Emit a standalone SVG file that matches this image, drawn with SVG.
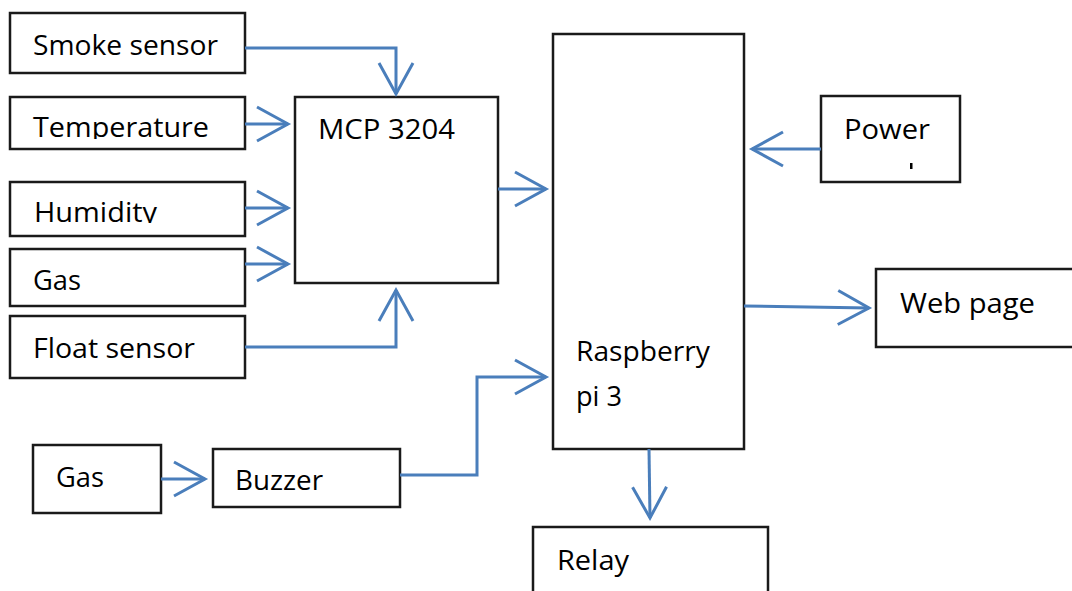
<svg xmlns="http://www.w3.org/2000/svg" width="1072" height="591" viewBox="0 0 1072 591">
<style>
.box{fill:#fff;stroke:#1a1a1a;stroke-width:2.5}
.lbl{font-family:"Open Sans","Liberation Sans",sans-serif;font-size:27px;fill:#000}
.con{fill:none;stroke:#4a7ebb;stroke-width:3}
</style>
<defs>
<marker id="ah" markerUnits="userSpaceOnUse" markerWidth="44" markerHeight="44" viewBox="-36 -22 44 44" refX="0" refY="0" orient="auto">
<path d="M-31,-17 L0,0 L-31,17" fill="none" stroke="#4a7ebb" stroke-width="3"/>
</marker>
<clipPath id="clipT"><rect x="0" y="90" width="260" height="49"/></clipPath>
<clipPath id="clipH"><rect x="0" y="175" width="260" height="48"/></clipPath>
</defs>
<rect width="1072" height="591" fill="#fff"/>
<g id="smoke"><rect class="box" x="10" y="13" width="235" height="60"/><text class="lbl" x="33" y="55" textLength="185" lengthAdjust="spacingAndGlyphs">Smoke sensor</text></g>
<g id="temperature"><rect class="box" x="10" y="97" width="235" height="52"/><text class="lbl" x="33" y="137" clip-path="url(#clipT)" textLength="176" lengthAdjust="spacingAndGlyphs">Temperature</text></g>
<g id="humidity"><rect class="box" x="10" y="182" width="235" height="54"/><text class="lbl" x="34" y="222" clip-path="url(#clipH)" textLength="123" lengthAdjust="spacingAndGlyphs">Humidity</text></g>
<g id="gas1"><rect class="box" x="10" y="249" width="235" height="57"/><text class="lbl" x="33" y="290" textLength="48" lengthAdjust="spacingAndGlyphs">Gas</text></g>
<g id="float"><rect class="box" x="10" y="316" width="235" height="62"/><text class="lbl" x="33" y="358" textLength="162" lengthAdjust="spacingAndGlyphs">Float sensor</text></g>
<g id="mcp"><rect class="box" x="295" y="97" width="203" height="186"/><text class="lbl" x="318" y="139" textLength="137" lengthAdjust="spacingAndGlyphs">MCP 3204</text></g>
<g id="rpi"><rect class="box" x="553" y="34" width="191" height="415"/><text class="lbl" x="576" y="361" textLength="134" lengthAdjust="spacingAndGlyphs">Raspberry</text><text class="lbl" x="576" y="406" textLength="46" lengthAdjust="spacingAndGlyphs">pi 3</text></g>
<g id="power"><rect class="box" x="821" y="96" width="139" height="86"/><text class="lbl" x="844" y="139" textLength="86" lengthAdjust="spacingAndGlyphs">Power</text><rect x="910" y="163" width="2.5" height="6" fill="#000"/></g>
<g id="web"><rect class="box" x="876" y="269" width="200" height="78"/><text class="lbl" x="900" y="313" textLength="135" lengthAdjust="spacingAndGlyphs">Web page</text></g>
<g id="relay"><rect class="box" x="533" y="527" width="235" height="70"/><text class="lbl" x="557" y="570" textLength="72" lengthAdjust="spacingAndGlyphs">Relay</text></g>
<g id="gas2"><rect class="box" x="33" y="445" width="128" height="68"/><text class="lbl" x="56" y="487" textLength="48" lengthAdjust="spacingAndGlyphs">Gas</text></g>
<g id="buzzer"><rect class="box" x="213" y="449" width="187" height="58"/><text class="lbl" x="235" y="490" textLength="88" lengthAdjust="spacingAndGlyphs">Buzzer</text></g>
<g id="connectors">
<path class="con" d="M245,48 H396 V94" marker-end="url(#ah)"/>
<path class="con" d="M245,124 H288" marker-end="url(#ah)"/>
<path class="con" d="M245,208 H288" marker-end="url(#ah)"/>
<path class="con" d="M245,264 H288" marker-end="url(#ah)"/>
<path class="con" d="M245,347 H396 V290" marker-end="url(#ah)"/>
<path class="con" d="M498,189 H546" marker-end="url(#ah)"/>
<path class="con" d="M400,475 H477 V377 H546" marker-end="url(#ah)"/>
<path class="con" d="M161,479 H205" marker-end="url(#ah)"/>
<path class="con" d="M821,149 H752" marker-end="url(#ah)"/>
<path class="con" d="M744,306 L869,308" marker-end="url(#ah)"/>
<path class="con" d="M649,449 L650,518" marker-end="url(#ah)"/>
</g>
</svg>
